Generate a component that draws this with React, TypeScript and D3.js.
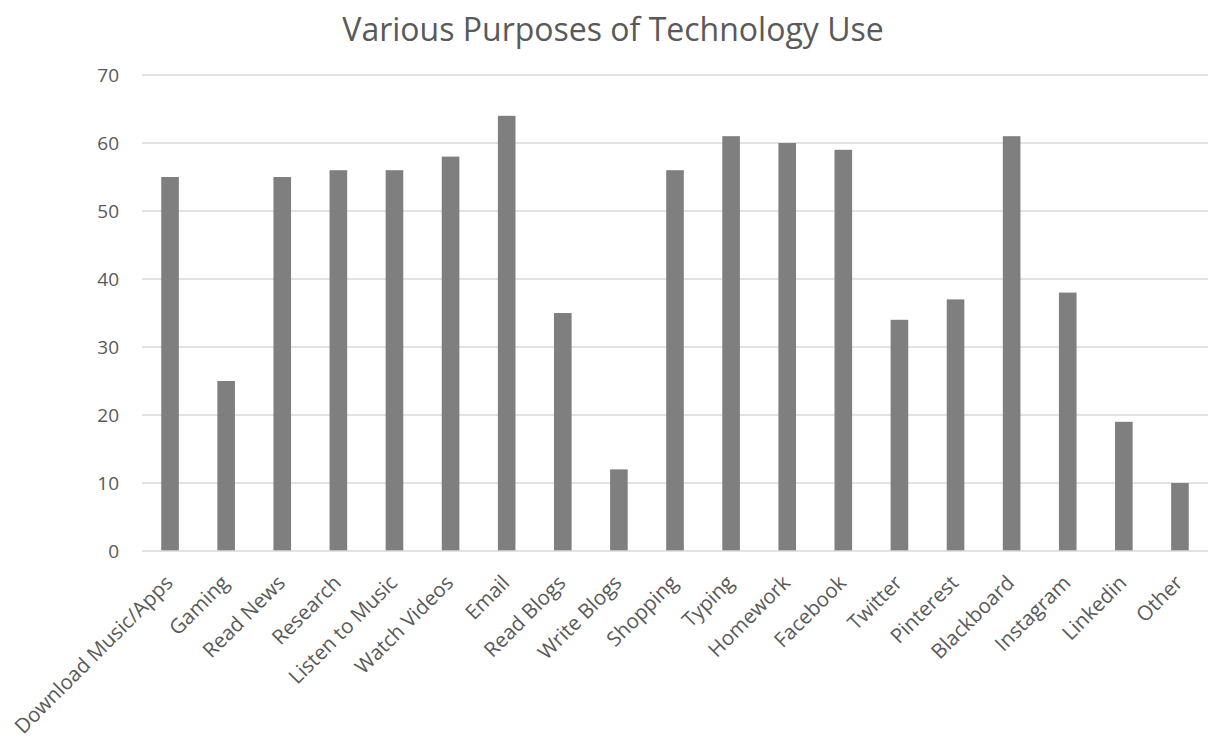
import React from "react";
import * as d3 from "d3";

const categories = [
  "Download Music/Apps", "Gaming", "Read News", "Research", "Listen to Music",
  "Watch Videos", "Email", "Read Blogs", "Write Blogs", "Shopping", "Typing",
  "Homework", "Facebook", "Twitter", "Pinterest", "Blackboard", "Instagram",
  "Linkedin", "Other",
];
const values = [55, 25, 55, 56, 56, 58, 64, 35, 12, 56, 61, 60, 59, 34, 37, 61, 38, 19, 10];
const yTicks = [0, 10, 20, 30, 40, 50, 60, 70];
const title = "Various Purposes of Technology Use";

const W = 1216;
const H = 738;
const left = 142;
const right = 1208;
const top = 75;
const bottom = 551;
const font = "'Open Sans', 'Noto Sans', sans-serif";
const textColor = "#595959";

export default function App() {
  const x = d3.scaleBand<string>().domain(categories).range([left, right]).paddingInner(0.686).paddingOuter(0.343);
  const y = d3.scaleLinear().domain([0, 70]).range([bottom, top]);

  return (
    <svg width={W} height={H} style={{ position: "absolute", left: 0, top: 0, background: "#fff" }}>
      <text x={613} y={41} textAnchor="middle" fontFamily={font} fontSize={32} fill={textColor}>
        {title}
      </text>
      {yTicks.map((t) => (
        <g key={t}>
          {t > 0 && (
            <line x1={left} x2={right} y1={y(t)} y2={y(t)} stroke="#d9d9d9" strokeWidth={1.3} />
          )}
          <text x={119} y={y(t)} dy="0.36em" textAnchor="end" fontFamily={font} fontSize={19} fill={textColor}>
            {t}
          </text>
        </g>
      ))}
      {categories.map((c, i) => (
        <rect
          key={c}
          x={x(c)}
          y={y(values[i])}
          width={x.bandwidth()}
          height={y(0) - y(values[i])}
          fill="#7f7f7f"
        />
      ))}
      <line x1={left} x2={right} y1={y(0)} y2={y(0)} stroke="#d9d9d9" strokeWidth={1.6} />
      {categories.map((c) => {
        const cx = (x(c) as number) + x.bandwidth() / 2;
        return (
          <text
            key={c}
            transform={`translate(${cx - 1},${bottom + 28}) rotate(-45)`}
            textAnchor="end"
            dy="0.35em"
            fontFamily={font}
            fontSize={20.5}
            fill={textColor}
          >
            {c}
          </text>
        );
      })}
    </svg>
  );
}
